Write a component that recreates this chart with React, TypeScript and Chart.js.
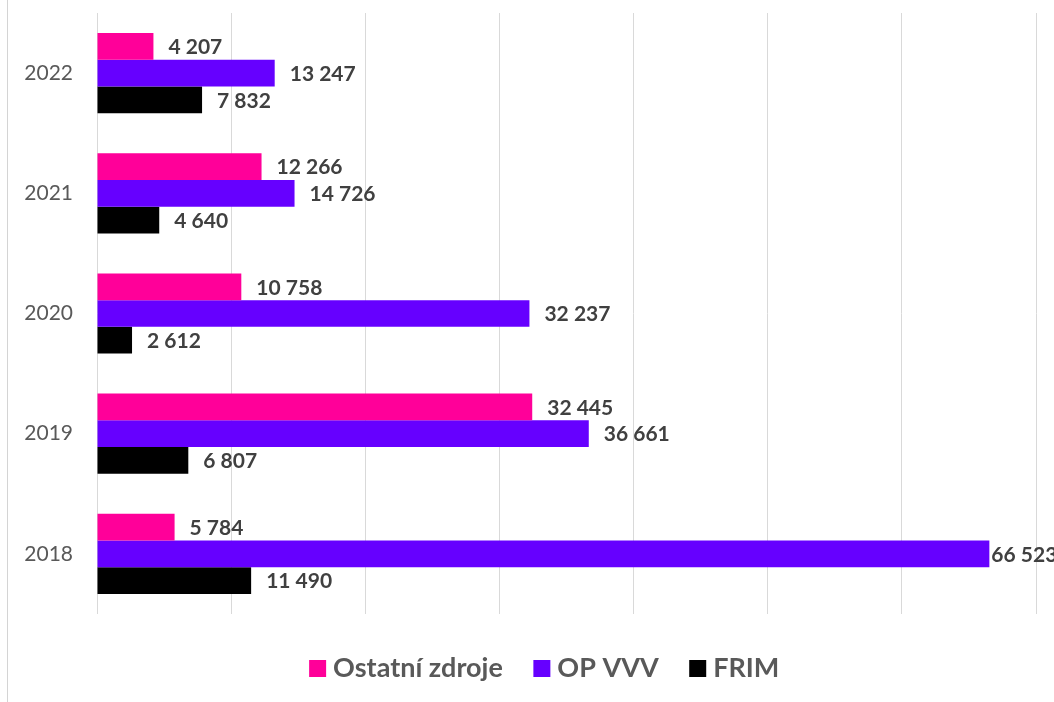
import React, { useEffect, useRef } from "react";
import { Chart, registerables } from "chart.js";

Chart.register(...registerables);

const years = ["2022", "2021", "2020", "2019", "2018"];
const ostatniZdroje = [4207, 12266, 10758, 32445, 5784];
const opVVV = [13247, 14726, 32237, 36661, 66523];
const frim = [7832, 4640, 2612, 6807, 11490];
const seriesNames = ["Ostatní zdroje", "OP VVV", "FRIM"];
const seriesColors = ["#FF0099", "#6600FF", "#000000"];

const fmt = (v: number) => String(v).replace(/\B(?=(\d{3})+(?!\d))/g, " ");

const labelPlugin = {
  id: "barLabels",
  afterLayout(chart: any) {
    const l = chart.legend;
    if (l) {
      l.left += 21;
      l.right += 21;
    }
  },
  afterDatasetsDraw(chart: any) {
    const ctx = chart.ctx;
    ctx.save();
    ctx.font = "bold 21px Lato";
    ctx.fillStyle = "#404040";
    ctx.textAlign = "left";
    ctx.textBaseline = "middle";
    chart.data.datasets.forEach((ds: any, di: number) => {
      const meta = chart.getDatasetMeta(di);
      meta.data.forEach((el: any, i: number) => {
        const txt = fmt(ds.data[i]);
        const w = ctx.measureText(txt).width;
        let x = el.x + 15;
        if (x + w > chart.width) x = el.x + 2;
        ctx.fillText(txt, x, el.y + 1);
      });
    });
    ctx.restore();
  },
};

export default function App() {
  const ref = useRef<HTMLCanvasElement>(null);
  useEffect(() => {
    if (!ref.current) return;
    Chart.defaults.font.family = "Lato";
    const chart = new Chart(ref.current, {
      type: "bar",
      data: {
        labels: years,
        datasets: [ostatniZdroje, opVVV, frim].map((d, i) => ({
          label: seriesNames[i],
          data: d,
          backgroundColor: seriesColors[i],
          borderWidth: 0,
          pointStyle: "rect",
          categoryPercentage: 0.667,
          barPercentage: 1.0,
        })),
      },
      options: {
        indexAxis: "y",
        responsive: false,
        animation: false,
        devicePixelRatio: 1,
        layout: { padding: { left: 17, right: 18, top: 13, bottom: 10 } },
        scales: {
          x: {
            min: 0,
            max: 70000,
            ticks: { display: false, stepSize: 10000 },
            grid: { color: "#d9d9d9", lineWidth: 1, drawTicks: false },
            border: { display: false },
            afterFit: (s: any) => {
              s.height = 4;
            },
          },
          y: {
            ticks: { color: "#595959", font: { size: 21, family: "Lato" }, padding: 24 },
            grid: { display: false, drawTicks: false },
            border: { display: false },
            afterFit: (s: any) => {
              s.width = 80;
              s.paddingTop = 0;
              s.paddingBottom = 0;
            },
          },
        },
        plugins: {
          legend: {
            position: "bottom",
            labels: {
              usePointStyle: true,
              pointStyle: "rect",
              boxWidth: 4,
              boxHeight: 17,
              padding: 37,
              color: "#595959",
              font: { size: 27, weight: "bold", family: "Lato" },
            },
          },
          tooltip: { enabled: false },
        },
      },
      plugins: [labelPlugin],
    } as any);
    return () => chart.destroy();
  }, []);
  return (
    <div style={{ position: "fixed", left: 0, top: 0, width: 1054, height: 702, background: "#fff" }}>
      <div style={{ position: "absolute", left: 7, top: 0, width: 1, height: 702, background: "#d4d4d4" }} />
      <canvas ref={ref} width={1054} height={702} style={{ position: "absolute", left: 0, top: 0 }} />
    </div>
  );
}
